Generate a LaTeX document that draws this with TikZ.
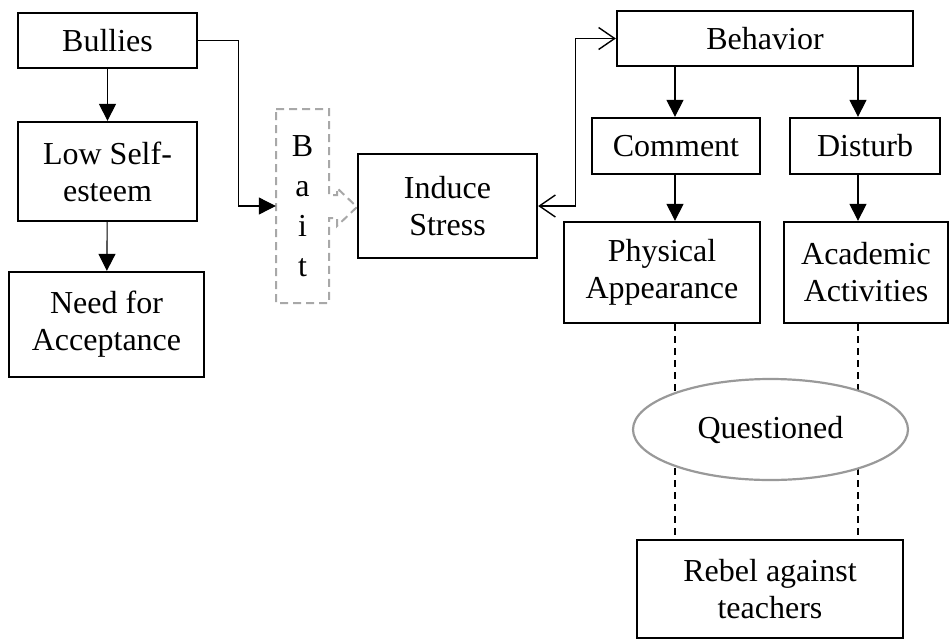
\documentclass[tikz,border=0pt]{standalone}
\usepackage{fontspec}
\setmainfont{Liberation Serif}
\usetikzlibrary{arrows.meta,shapes.geometric}
\begin{document}
\begin{tikzpicture}[x=1pt,y=-1pt,
  box/.style={draw=black,line width=2.3pt,inner sep=0pt,align=center,
    font=\fontsize{32}{37}\selectfont},
  conn/.style={line width=1.1pt,-{Triangle[length=17pt,width=17pt]}},
  twoway/.style={line width=1.3pt,
    {Straight Barb[length=16pt,width=22pt,line width=1.4pt]}-{Straight Barb[length=16pt,width=22pt,line width=1.4pt]}},
  link/.style={line width=1.4pt,dash pattern=on 7pt off 5pt},
  baitline/.style={draw=black!34,line width=2pt,dash pattern=on 8pt off 5pt,fill=white},
  oval/.style={ellipse,draw=black!40,line width=2.2pt,fill=white,inner sep=0pt,
    font=\fontsize{32}{37}\selectfont}]
\useasboundingbox (0,0) rectangle (951,641);

% left column
\node[box,minimum width=179pt,minimum height=55pt] (bullies) at (107.5,40.5) {Bullies};
\node[box,minimum width=179pt,minimum height=99pt] (lowself) at (107.5,171.5) {Low Self-\\esteem};
\node[box,minimum width=195pt,minimum height=105pt] (need) at (106.5,324.5) {Need for\\Acceptance};

% bait callout
\draw[baitline] (276,109) -- (329,109) -- (329,195) -- (337,195) -- (337,188)
  -- (357,207) -- (337,226) -- (337,218) -- (329,218) -- (329,303) -- (276,303) -- cycle;
\node[inner sep=0pt,minimum width=53pt,minimum height=194pt,align=center,
  font=\fontsize{32}{40}\selectfont] (bait) at (302.5,206) {B\\a\\i\\t};

% middle
\node[box,minimum width=179pt,minimum height=104pt] (induce) at (447.5,206) {Induce\\Stress};

% right side
\node[box,minimum width=296pt,minimum height=55pt] (behavior) at (765,38.5) {Behavior};
\node[box,minimum width=168pt,minimum height=56pt] (comment) at (676,146) {Comment};
\node[box,minimum width=150pt,minimum height=56pt] (disturb) at (865,146) {Disturb};
\node[box,minimum width=196pt,minimum height=101pt] (physical) at (662,272.5) {Physical\\Appearance};
\node[box,minimum width=164pt,minimum height=101pt] (academic) at (866,272.5) {Academic\\Activities};
\node[box,minimum width=266pt,minimum height=98pt] (rebel) at (770,589) {Rebel against\\teachers};

\coordinate (colA) at (675,0);
\coordinate (colB) at (858,0);

% connectors
\draw[conn] (bullies) -- (lowself);
\draw[conn] (lowself) -- (need);
\draw[conn] (bullies.east) -- ++(40,0) |- (bait.west);
\draw[twoway] (induce.east) -- ++(37,0) |- (behavior.west);
\draw[conn] (colA |- behavior.south) -- (colA |- comment.north);
\draw[conn] (colB |- behavior.south) -- (colB |- disturb.north);
\draw[conn] (colA |- comment.south) -- (colA |- physical.north);
\draw[conn] (colB |- disturb.south) -- (colB |- academic.north);
\draw[link] (colA |- physical.south) -- (colA |- rebel.north);
\draw[link] (colB |- academic.south) -- (colB |- rebel.north);

\node[oval,minimum width=275pt,minimum height=101pt] (questioned) at (770.5,429.5) {Questioned};
\end{tikzpicture}
\end{document}
